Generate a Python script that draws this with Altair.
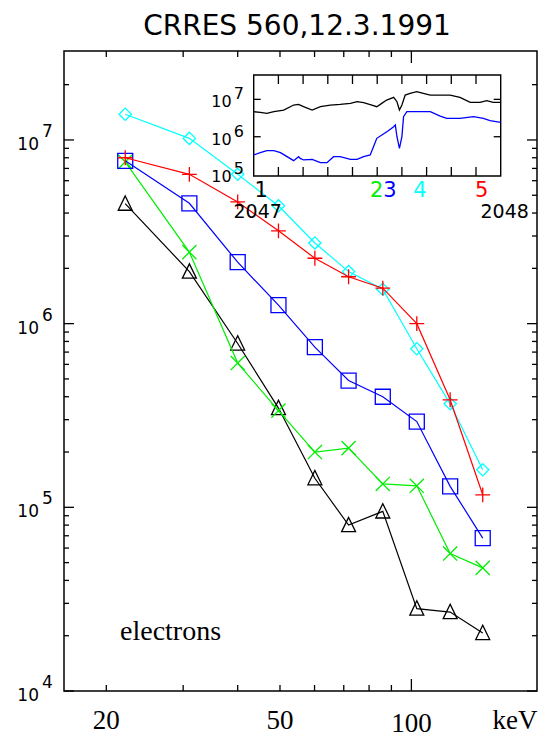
import altair as alt
import pandas as pd

TITLE = "CRRES 560,12.3.1991"

# Electron channel energies (keV)
energy_kev = [22.1, 31.0, 40.0, 49.6, 60.1, 71.8, 86.0, 102.9, 122.7, 145.7]

# Differential flux spectra taken at the five marked times
flux_1 = [4.5e6, 1.92e6, 7.8e5, 3.47e5, 1.44e5, 8.0e4, 9.5e4, 2.81e4, 2.69e4, 2.07e4]
flux_2 = [7.6e6, 2.45e6, 6.1e5, 3.36e5, 2.0e5, 2.1e5, 1.34e5, 1.31e5, 5.6e4, 4.68e4]
flux_3 = [7.7e6, 4.52e6, 2.16e6, 1.26e6, 7.45e5, 4.9e5, 4.0e5, 2.93e5, 1.3e5, 6.8e4]
flux_4 = [1.38e7, 1.02e7, 6.5e6, 4.38e6, 2.75e6, 1.92e6, 1.54e6, 7.3e5, 3.66e5, 1.6e5]
flux_5 = [8.0e6, 6.5e6, 4.6e6, 3.2e6, 2.27e6, 1.8e6, 1.56e6, 1.0e6, 3.85e5, 1.17e5]

spectrum_labels = ["1", "2", "3", "4", "5"]
spectrum_colors = ["#000000", "#00ee00", "#0000ff", "#00ffff", "#ff0000"]
# sample times (s after 20:47) at which the spectra were taken
spectrum_times = [1.8, 29.9, 33.1, 40.4, 55.4]

# Inset time series: lowest channel (black) and a high channel (blue)
inset_t_upper = [0, 1.6, 3.2, 4.9, 7.3, 9.7, 10.9, 12.1, 14.2, 16.2, 18.6, 21.0,
                 23.5, 25.1, 26.7, 28.7, 29.9, 31.1, 32.3, 34.0, 34.8, 35.4, 36.0,
                 36.8, 38.0, 39.6, 41.2, 42.9, 45.3, 47.7, 50.1, 52.6, 55.0, 56.6,
                 58.2, 60]
inset_f_upper = [4.67e6, 4.48e6, 4.22e6, 4.67e6, 5.18e6, 7.04e6, 7.34e6, 6.36e6,
                 5.18e6, 6.36e6, 7.04e6, 7.34e6, 7.8e6, 8.65e6, 8.13e6, 7.04e6,
                 6.36e6, 7.8e6, 9.58e6, 1.13e7, 8.65e6, 5.18e6, 7.04e6, 1.30e7,
                 1.44e7, 1.60e7, 1.44e7, 1.30e7, 1.30e7, 1.30e7, 1.13e7, 8.3e6,
                 8.3e6, 9.2e6, 8.3e6, 8.3e6]
inset_t_lower = [0, 1.6, 3.2, 4.9, 6.5, 8.1, 9.7, 10.9, 11.3, 12.1, 14.2, 16.2,
                 17.8, 19.4, 21.0, 23.5, 25.1, 26.7, 28.3, 29.1, 29.9, 31.5, 32.7,
                 34.0, 34.4, 34.8, 35.4, 36.0, 36.4, 37.2, 38.8, 40.4, 42.9, 45.3,
                 46.9, 50.1, 53.4, 55.8, 57.4, 60]
inset_f_lower = [3.25e5, 3.75e5, 4.24e5, 4.24e5, 3.75e5, 2.93e5, 2.29e5, 2.93e5,
                 2.64e5, 2.39e5, 2.49e5, 2.03e5, 2.03e5, 2.93e5, 2.93e5, 2.49e5,
                 2.49e5, 2.93e5, 3.25e5, 5.42e5, 9.06e5, 1.18e6, 1.45e6, 1.86e6,
                 2.06e6, 1.0e6, 4.9e5, 1.0e6, 3.44e6, 4.67e6, 4.67e6, 4.67e6,
                 4.67e6, 3.58e6, 3.1e6, 3.1e6, 3.44e6, 3.1e6, 2.69e6, 2.43e6]

# Axis tick values
x_minor_ticks = [20, 30, 40, 50, 60, 70, 80, 90]
x_major_ticks = [100]
x_label_values = [20, 50, 100]
x_tick_labels = ["20", "50", "100"]
y_major_ticks = [1e4, 1e5, 1e6, 1e7]
y_minor_ticks = [m * d for d in (1e4, 1e5, 1e6) for m in range(2, 10)] + [2e7]
y_exponents = ["4", "5", "6", "7"]
inset_x_ticks = [6, 12, 18, 24, 30, 36, 42, 48, 54]
inset_y_ticks = [1e5, 1e6, 1e7]
inset_y_exponents = ["5", "6", "7"]

# ---- geometry -------------------------------------------------------------
W, H = 473, 640
PAD = {"left": 64, "top": 51, "right": 8, "bottom": 49}
IX0, IX1 = 189.7, 436.7     # inset frame, left/right (px in plot area)
IY0, IY1 = 24, 125          # inset frame, top/bottom
SANS = "DejaVu Sans"
SERIF = "Liberation Serif"

x_main = alt.Scale(type="log", domain=[16, 194], nice=False)
y_main = alt.Scale(type="log", domain=[1e4, 3.05e7], nice=False)
x_ins = alt.Scale(type="linear", domain=[0, 60], range=[IX0, IX1], nice=False, zero=False)
y_ins = alt.Scale(type="log", domain=[8.9e4, 4.48e7], range=[IY1, IY0], nice=False)


def X(field):
    return alt.X(f"{field}:Q", scale=x_main, axis=None)


def Y(field):
    return alt.Y(f"{field}:Q", scale=y_main, axis=None)


def XI(field):
    return alt.X(f"{field}:Q", scale=x_ins, axis=None)


def YI(field):
    return alt.Y(f"{field}:Q", scale=y_ins, axis=None)


# ---- main spectra -----------------------------------------------------------
PLUS = "M-1,0L1,0M0,-1L0,1"
CROSS = "M-1,-1L1,1M-1,1L1,-1"
TRI = "M0,-1L-0.9,0.85L0.9,0.85Z"
series = [
    (flux_1, spectrum_colors[0], TRI, 240),
    (flux_2, spectrum_colors[1], CROSS, 200),
    (flux_3, spectrum_colors[2], "square", 225),
    (flux_4, spectrum_colors[3], "diamond", 150),
    (flux_5, spectrum_colors[4], PLUS, 220),
]

main_layers = []
for flux, color, shape, size in series:
    df = pd.DataFrame({"energy": energy_kev, "flux": flux})
    base = alt.Chart(df)
    main_layers.append(
        base.mark_line(color=color, strokeWidth=1.2).encode(x=X("energy"), y=Y("flux"))
    )
    main_layers.append(
        base.mark_point(shape=shape, filled=False, color=color, size=size,
                        strokeWidth=1.3, opacity=1).encode(x=X("energy"), y=Y("flux"))
    )

# ---- main frame ticks (inward, all four sides) ------------------------------
def xticks(vals, length):
    d = alt.Chart(pd.DataFrame({"v": vals}))
    bot = d.mark_rule(color="black", strokeWidth=1.3).encode(
        x=X("v"), y=alt.value(H), y2=alt.value(H - length))
    top = d.mark_rule(color="black", strokeWidth=1.3).encode(
        x=X("v"), y=alt.value(0), y2=alt.value(length))
    return [bot, top]


def yticks(vals, length):
    d = alt.Chart(pd.DataFrame({"v": vals}))
    left = d.mark_rule(color="black", strokeWidth=1.3).encode(
        y=Y("v"), x=alt.value(0), x2=alt.value(length))
    right = d.mark_rule(color="black", strokeWidth=1.3).encode(
        y=Y("v"), x=alt.value(W), x2=alt.value(W - length))
    return [left, right]


tick_layers = (xticks(x_minor_ticks, 6) + xticks(x_major_ticks, 12)
               + yticks(y_minor_ticks, 5) + yticks(y_major_ticks, 10))

# ---- main axis labels ---------------------------------------------------------
xlab = pd.DataFrame({"v": x_label_values, "lab": x_tick_labels,
                     "ypix": [H + 38, H + 38, H + 41]})
xlabel_layer = alt.Chart(xlab).mark_text(
    font=SERIF, fontSize=27, align="center", baseline="alphabetic", color="black"
).encode(x=X("v"), y=alt.Y("ypix:Q", scale=None, axis=None), text="lab:N")

kev_layer = alt.Chart(pd.DataFrame({"t": ["keV"]})).mark_text(
    font=SERIF, fontSize=27, align="center", baseline="alphabetic", color="black"
).encode(x=alt.value(451), y=alt.value(H + 38), text="t:N")

ylab = pd.DataFrame({"v": y_major_ticks, "base": ["10"] * 4, "exp": y_exponents})
ybase_layer = alt.Chart(ylab).mark_text(
    font=SANS, fontSize=17, align="right", baseline="middle", dy=5, color="black"
).encode(y=Y("v"), x=alt.value(-25), text="base:N")
yexp_layer = alt.Chart(ylab).mark_text(
    font=SANS, fontSize=17, align="left", baseline="middle", dy=-8, color="black"
).encode(y=Y("v"), x=alt.value(-22), text="exp:N")

title_layer = alt.Chart(pd.DataFrame({"t": [TITLE]})).mark_text(
    font=SANS, fontSize=28, align="center", baseline="alphabetic", color="black"
).encode(x=alt.value(233), y=alt.value(-16), text="t:N")

electrons_layer = alt.Chart(pd.DataFrame({"t": ["electrons"]})).mark_text(
    font=SERIF, fontSize=28, align="left", baseline="alphabetic", color="black"
).encode(x=alt.value(56), y=alt.value(589), text="t:N")

main = alt.layer(*(main_layers + tick_layers + [
    xlabel_layer, kev_layer, ybase_layer, yexp_layer, title_layer, electrons_layer
]))

# ---- inset: time series -------------------------------------------------------
box = alt.Chart(pd.DataFrame({"t0": [0], "t1": [60], "f0": [8.9e4], "f1": [4.48e7]})).mark_rect(
    fill="white", stroke="black", strokeWidth=1.4
).encode(x=XI("t0"), x2="t1", y=YI("f0"), y2="f1")

upper = alt.Chart(pd.DataFrame({"t": inset_t_upper, "f": inset_f_upper})).mark_line(
    color="black", strokeWidth=1.3).encode(x=XI("t"), y=YI("f"))
lower = alt.Chart(pd.DataFrame({"t": inset_t_lower, "f": inset_f_lower})).mark_line(
    color="#0000ff", strokeWidth=1.3).encode(x=XI("t"), y=YI("f"))

itx = alt.Chart(pd.DataFrame({"v": inset_x_ticks}))
ity = alt.Chart(pd.DataFrame({"v": [1e6, 1e7]}))
inset_ticks = [
    itx.mark_rule(color="black", strokeWidth=1.3).encode(
        x=XI("v"), y=alt.value(IY0), y2=alt.value(IY0 + 9)),
    itx.mark_rule(color="black", strokeWidth=1.3).encode(
        x=XI("v"), y=alt.value(IY1), y2=alt.value(IY1 - 9)),
    ity.mark_rule(color="black", strokeWidth=1.3).encode(
        y=YI("v"), x=alt.value(IX0), x2=alt.value(IX0 + 7)),
    ity.mark_rule(color="black", strokeWidth=1.3).encode(
        y=YI("v"), x=alt.value(IX1), x2=alt.value(IX1 - 7)),
]

iylab = pd.DataFrame({"v": inset_y_ticks, "base": ["10"] * 3, "exp": inset_y_exponents})
inset_ybase = alt.Chart(iylab).mark_text(
    font=SANS, fontSize=16, align="right", baseline="middle", dy=3, color="black"
).encode(y=YI("v"), x=alt.value(IX0 - 22), text="base:N")
inset_yexp = alt.Chart(iylab).mark_text(
    font=SANS, fontSize=16, align="left", baseline="middle", dy=-5, color="black"
).encode(y=YI("v"), x=alt.value(IX0 - 20), text="exp:N")

marks_df = pd.DataFrame({"t": spectrum_times, "lab": spectrum_labels, "col": spectrum_colors})
inset_numbers = alt.Chart(marks_df).mark_text(
    font=SANS, fontSize=21, align="center", baseline="alphabetic"
).encode(x=XI("t"), y=alt.value(IY1 + 21), text="lab:N",
         color=alt.Color("col:N", scale=None))

time_df = pd.DataFrame({"t": [0, 60], "lab": ["2047", "2048"]})
inset_times = alt.Chart(time_df).mark_text(
    font=SANS, fontSize=19, align="center", baseline="alphabetic", dx=4, color="black"
).encode(x=XI("t"), y=alt.value(IY1 + 42), text="lab:N")

inset = alt.layer(box, upper, lower, *inset_ticks, inset_ybase, inset_yexp,
                  inset_numbers, inset_times)

chart = alt.layer(main, inset).resolve_scale(
    x="independent", y="independent"
).properties(
    width=W, height=H, padding=PAD,
    autosize=alt.AutoSizeParams(type="none"),
).configure_view(stroke="black", strokeWidth=1.5)

chart.save("out.html", embed_options={"renderer": "svg", "actions": False})
